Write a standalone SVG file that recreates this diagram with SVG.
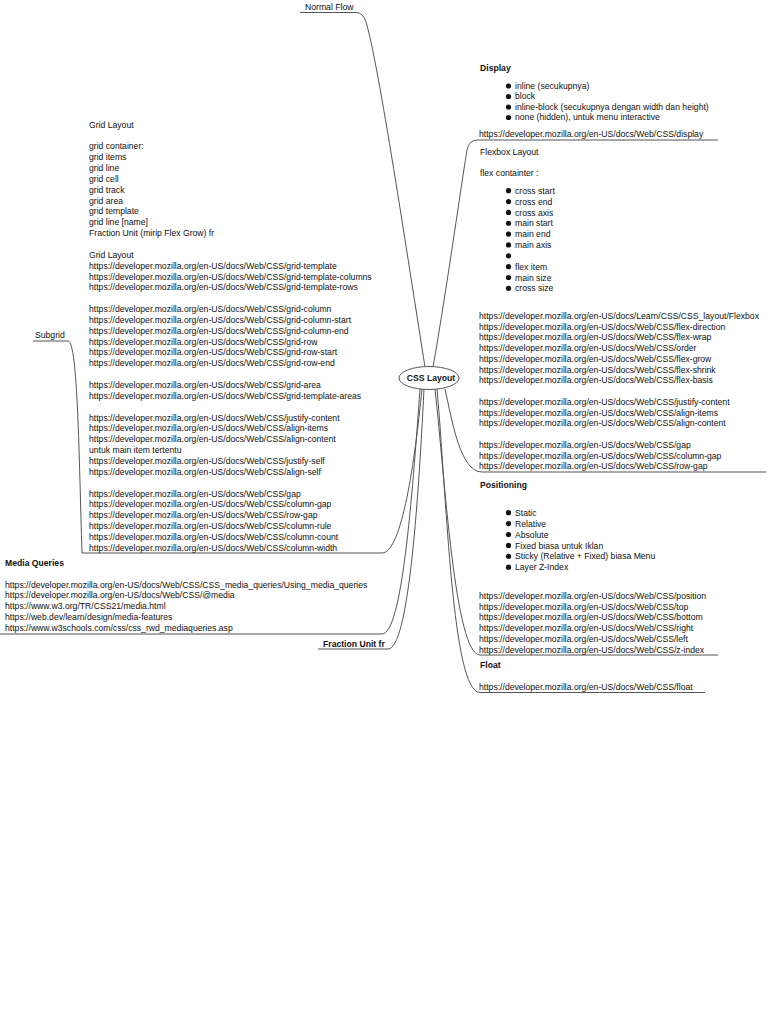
<svg xmlns="http://www.w3.org/2000/svg" width="768" height="1024" viewBox="0 0 768 1024">
<style>
.t{font-family:"Liberation Sans",Arial,sans-serif;font-size:8.65px;fill:#111}
.b{font-weight:bold}
.c{fill:none;stroke:#555;stroke-width:1}
.u{stroke:#555;stroke-width:1}
.dot{fill:#111}
</style>
<rect width="768" height="1024" fill="#fff"/>
<g id="connectors">
<path class="c" d="M425,367 C408,260 378,60 366,22 Q363,12.5 356,12.5"/>
<path class="c" d="M433,367 C445,300 462,180 467,150 Q469,140 477,140"/>
<path class="c" d="M445,389 C452,420 460,472 482,472"/>
<path class="c" d="M435,389 C445,480 455,655 480,655"/>
<path class="c" d="M437,389 C447,500 452,692.5 480,692.5"/>
<path class="c" d="M422,389 C415,460 402,553 382,553"/>
<path class="c" d="M420,389 C412,500 402,634 382,634"/>
<path class="c" d="M424,389 C418,510 408,649 388,649"/>
<path class="c" d="M82,553 C79,460 78,341 68,341"/>
</g>
<g id="node-css-layout">
<ellipse cx="429" cy="378" rx="30" ry="11.5" fill="#fff" stroke="#555" stroke-width="1"/>
<text class="t b" x="431" y="381.2" text-anchor="middle">CSS Layout</text>
</g>
<g id="node-normal-flow">
<line class="u" x1="300" y1="12.5" x2="356" y2="12.5"/>
<text class="t" x="305" y="10">Normal Flow</text>
</g>
<g id="node-subgrid">
<line class="u" x1="33" y1="341" x2="68" y2="341"/>
<text class="t" x="35" y="337.5">Subgrid</text>
</g>
<g id="node-grid-layout">
<line class="u" x1="82" y1="553" x2="382" y2="553"/>
<text class="t" x="89" y="127.6">Grid Layout<tspan x="89" dy="21.7">grid container:</tspan><tspan x="89" dy="10.85">grid items</tspan><tspan x="89" dy="10.85">grid line</tspan><tspan x="89" dy="10.85">grid cell</tspan><tspan x="89" dy="10.85">grid track</tspan><tspan x="89" dy="10.85">grid area</tspan><tspan x="89" dy="10.85">grid template</tspan><tspan x="89" dy="10.85">grid line [name]</tspan><tspan x="89" dy="10.85">Fraction Unit (mirip Flex Grow) fr</tspan><tspan x="89" dy="21.7">Grid Layout</tspan><tspan x="89" dy="10.85">https://developer.mozilla.org/en-US/docs/Web/CSS/grid-template</tspan><tspan x="89" dy="10.85">https://developer.mozilla.org/en-US/docs/Web/CSS/grid-template-columns</tspan><tspan x="89" dy="10.85">https://developer.mozilla.org/en-US/docs/Web/CSS/grid-template-rows</tspan><tspan x="89" dy="21.7">https://developer.mozilla.org/en-US/docs/Web/CSS/grid-column</tspan><tspan x="89" dy="10.85">https://developer.mozilla.org/en-US/docs/Web/CSS/grid-column-start</tspan><tspan x="89" dy="10.85">https://developer.mozilla.org/en-US/docs/Web/CSS/grid-column-end</tspan><tspan x="89" dy="10.85">https://developer.mozilla.org/en-US/docs/Web/CSS/grid-row</tspan><tspan x="89" dy="10.85">https://developer.mozilla.org/en-US/docs/Web/CSS/grid-row-start</tspan><tspan x="89" dy="10.85">https://developer.mozilla.org/en-US/docs/Web/CSS/grid-row-end</tspan><tspan x="89" dy="21.7">https://developer.mozilla.org/en-US/docs/Web/CSS/grid-area</tspan><tspan x="89" dy="10.85">https://developer.mozilla.org/en-US/docs/Web/CSS/grid-template-areas</tspan><tspan x="89" dy="21.7">https://developer.mozilla.org/en-US/docs/Web/CSS/justify-content</tspan><tspan x="89" dy="10.85">https://developer.mozilla.org/en-US/docs/Web/CSS/align-items</tspan><tspan x="89" dy="10.85">https://developer.mozilla.org/en-US/docs/Web/CSS/align-content</tspan><tspan x="89" dy="10.85">untuk main item tertentu</tspan><tspan x="89" dy="10.85">https://developer.mozilla.org/en-US/docs/Web/CSS/justify-self</tspan><tspan x="89" dy="10.85">https://developer.mozilla.org/en-US/docs/Web/CSS/align-self</tspan><tspan x="89" dy="21.7">https://developer.mozilla.org/en-US/docs/Web/CSS/gap</tspan><tspan x="89" dy="10.85">https://developer.mozilla.org/en-US/docs/Web/CSS/column-gap</tspan><tspan x="89" dy="10.85">https://developer.mozilla.org/en-US/docs/Web/CSS/row-gap</tspan><tspan x="89" dy="10.85">https://developer.mozilla.org/en-US/docs/Web/CSS/column-rule</tspan><tspan x="89" dy="10.85">https://developer.mozilla.org/en-US/docs/Web/CSS/column-count</tspan><tspan x="89" dy="10.85">https://developer.mozilla.org/en-US/docs/Web/CSS/column-width</tspan></text>
</g>
<g id="node-media-queries">
<line class="u" x1="0" y1="634" x2="382" y2="634"/>
<text class="t b" x="5" y="566">Media Queries</text>
<text class="t" x="5" y="587.5">https://developer.mozilla.org/en-US/docs/Web/CSS/CSS_media_queries/Using_media_queries<tspan x="5" dy="10.8">https://developer.mozilla.org/en-US/docs/Web/CSS/@media</tspan><tspan x="5" dy="10.8">https://www.w3.org/TR/CSS21/media.html</tspan><tspan x="5" dy="10.8">https://web.dev/learn/design/media-features</tspan><tspan x="5" dy="10.8">https://www.w3schools.com/css/css_rwd_mediaqueries.asp</tspan></text>
</g>
<g id="node-fraction-unit">
<line class="u" x1="318" y1="649" x2="388" y2="649"/>
<text class="t b" x="323" y="646.5">Fraction Unit fr</text>
</g>
<g id="node-display">
<line class="u" x1="477" y1="140" x2="718" y2="140"/>
<text class="t b" x="480" y="71">Display</text>
<circle class="dot" cx="508.5" cy="86" r="2.6"/>
<circle class="dot" cx="508.5" cy="96.5" r="2.6"/>
<circle class="dot" cx="508.5" cy="107" r="2.6"/>
<circle class="dot" cx="508.5" cy="117.5" r="2.6"/>
<text class="t" x="515" y="88.9">inline (secukupnya)<tspan x="515" dy="10.5">block</tspan><tspan x="515" dy="10.5">inline-block (secukupnya dengan width dan height)</tspan><tspan x="515" dy="10.5">none (hidden), untuk menu interactive</tspan></text>
<text class="t" x="479" y="137">https://developer.mozilla.org/en-US/docs/Web/CSS/display</text>
</g>
<g id="node-flexbox">
<line class="u" x1="482" y1="472" x2="766" y2="472"/>
<text class="t" x="480" y="154.8">Flexbox Layout</text>
<text class="t" x="480" y="176.4">flex containter :</text>
<g class="dot">
<circle cx="508.5" cy="190.7" r="2.6"/><circle cx="508.5" cy="201.55" r="2.6"/><circle cx="508.5" cy="212.4" r="2.6"/><circle cx="508.5" cy="223.25" r="2.6"/><circle cx="508.5" cy="234.1" r="2.6"/><circle cx="508.5" cy="244.95" r="2.6"/><circle cx="508.5" cy="255.8" r="2.6"/><circle cx="508.5" cy="266.65" r="2.6"/><circle cx="508.5" cy="277.5" r="2.6"/><circle cx="508.5" cy="288.35" r="2.6"/>
</g>
<text class="t" x="515" y="193.8">cross start<tspan x="515" dy="10.85">cross end</tspan><tspan x="515" dy="10.85">cross axis</tspan><tspan x="515" dy="10.85">main start</tspan><tspan x="515" dy="10.85">main end</tspan><tspan x="515" dy="10.85">main axis</tspan><tspan x="515" dy="21.7">flex item</tspan><tspan x="515" dy="10.85">main size</tspan><tspan x="515" dy="10.85">cross size</tspan></text>
<text class="t" x="479" y="318.8">https://developer.mozilla.org/en-US/docs/Learn/CSS/CSS_layout/Flexbox<tspan x="479" dy="10.75">https://developer.mozilla.org/en-US/docs/Web/CSS/flex-direction</tspan><tspan x="479" dy="10.75">https://developer.mozilla.org/en-US/docs/Web/CSS/flex-wrap</tspan><tspan x="479" dy="10.75">https://developer.mozilla.org/en-US/docs/Web/CSS/order</tspan><tspan x="479" dy="10.75">https://developer.mozilla.org/en-US/docs/Web/CSS/flex-grow</tspan><tspan x="479" dy="10.75">https://developer.mozilla.org/en-US/docs/Web/CSS/flex-shrink</tspan><tspan x="479" dy="10.75">https://developer.mozilla.org/en-US/docs/Web/CSS/flex-basis</tspan><tspan x="479" dy="21.5">https://developer.mozilla.org/en-US/docs/Web/CSS/justify-content</tspan><tspan x="479" dy="10.75">https://developer.mozilla.org/en-US/docs/Web/CSS/align-items</tspan><tspan x="479" dy="10.75">https://developer.mozilla.org/en-US/docs/Web/CSS/align-content</tspan><tspan x="479" dy="21.5">https://developer.mozilla.org/en-US/docs/Web/CSS/gap</tspan><tspan x="479" dy="10.75">https://developer.mozilla.org/en-US/docs/Web/CSS/column-gap</tspan><tspan x="479" dy="10.75">https://developer.mozilla.org/en-US/docs/Web/CSS/row-gap</tspan></text>
</g>
<g id="node-positioning">
<line class="u" x1="480" y1="655" x2="718" y2="655"/>
<text class="t b" x="480" y="488">Positioning</text>
<g class="dot">
<circle cx="508.5" cy="512.7" r="2.6"/><circle cx="508.5" cy="523.6" r="2.6"/><circle cx="508.5" cy="534.5" r="2.6"/><circle cx="508.5" cy="545.4" r="2.6"/><circle cx="508.5" cy="556.3" r="2.6"/><circle cx="508.5" cy="567.2" r="2.6"/>
</g>
<text class="t" x="515" y="515.8">Static<tspan x="515" dy="10.9">Relative</tspan><tspan x="515" dy="10.9">Absolute</tspan><tspan x="515" dy="10.9">Fixed biasa untuk Iklan</tspan><tspan x="515" dy="10.9">Sticky (Relative + Fixed) biasa Menu</tspan><tspan x="515" dy="10.9">Layer Z-Index</tspan></text>
<text class="t" x="479" y="599">https://developer.mozilla.org/en-US/docs/Web/CSS/position<tspan x="479" dy="10.7">https://developer.mozilla.org/en-US/docs/Web/CSS/top</tspan><tspan x="479" dy="10.7">https://developer.mozilla.org/en-US/docs/Web/CSS/bottom</tspan><tspan x="479" dy="10.7">https://developer.mozilla.org/en-US/docs/Web/CSS/right</tspan><tspan x="479" dy="10.7">https://developer.mozilla.org/en-US/docs/Web/CSS/left</tspan><tspan x="479" dy="10.7">https://developer.mozilla.org/en-US/docs/Web/CSS/z-index</tspan></text>
</g>
<g id="node-float">
<line class="u" x1="480" y1="692.5" x2="705" y2="692.5"/>
<text class="t b" x="480" y="668">Float</text>
<text class="t" x="479" y="689.8">https://developer.mozilla.org/en-US/docs/Web/CSS/float</text>
</g>
</svg>
